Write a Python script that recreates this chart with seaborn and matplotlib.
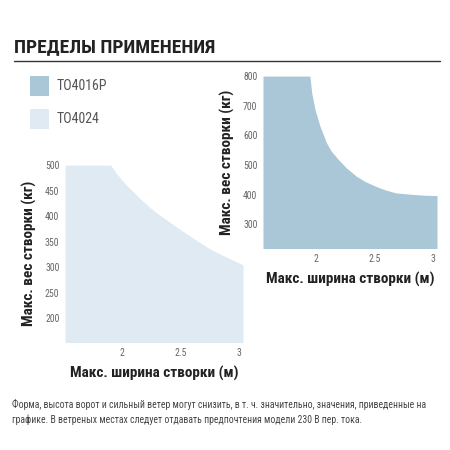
import matplotlib
matplotlib.use("Agg")
import matplotlib.pyplot as plt
import seaborn as sns
import pandas as pd

# data
width_p = [1.55, 1.949, 1.964, 1.992, 2.034, 2.09, 2.13, 2.19, 2.26, 2.345, 2.42,
           2.51, 2.59, 2.68, 2.76, 2.85, 2.93, 3.03]
weight_p = [800, 800, 745, 688, 632, 575, 547, 519, 490, 462, 444,
            428, 416, 406, 403, 400, 398, 397]

width_l = [1.52, 1.907, 1.96, 2.02, 2.09, 2.16, 2.24, 2.33, 2.43, 2.53, 2.64, 2.75, 2.89, 3.03]
weight_l = [500, 500, 483, 466, 450, 434, 417, 401, 385, 369, 352, 336, 320, 305]

ticks_l = [200, 250, 300, 350, 400, 450, 500]
ticks_p = [300, 400, 500, 600, 700, 800]
xticks = [2, 2.5, 3]
xtick_labels = ["2", "2.5", "3"]

names = ["TO4016P", "TO4024"]
dark = "#a9c7d6"
light = "#dfeaf2"

sns.set_theme(style="white")
plt.rcParams["font.family"] = ["Roboto Condensed", "Fira Sans Condensed", "Oswald",
                               "PT Sans Narrow", "Sofia Sans Condensed", "DejaVu Sans"]

fig = plt.figure(figsize=(4.5, 4.5), dpi=100)

df_l = pd.DataFrame({"w": width_l, "kg": weight_l})
df_p = pd.DataFrame({"w": width_p, "kg": weight_p})

ax1 = fig.add_axes([0.1444, 0.24, 0.3956, 0.393])
sns.lineplot(data=df_l, x="w", y="kg", ax=ax1, color=light, lw=0)
ax1.fill_between(df_l["w"], 0, df_l["kg"], color=light, lw=0)
ax1.set_xlim(1.52, 3.03)
ax1.set_ylim(154, 500)
ax1.set_yticks(ticks_l)

ax2 = fig.add_axes([0.5844, 0.4489, 0.3867, 0.382])
sns.lineplot(data=df_p, x="w", y="kg", ax=ax2, color=dark, lw=0)
ax2.fill_between(df_p["w"], 0, df_p["kg"], color=dark, lw=0)
ax2.set_xlim(1.55, 3.03)
ax2.set_ylim(220, 800)
ax2.set_yticks(ticks_p)

for ax in (ax1, ax2):
    ax.set_facecolor("none")
    ax.set_xticks(xticks)
    ax.set_xticklabels(xtick_labels)
    ax.tick_params(axis="both", length=0, labelsize=7, labelcolor="#666666", pad=4)
    sns.despine(ax=ax, left=True, bottom=True)
    ax.set_xlabel("Макс. ширина створки (м)", fontsize=11, fontweight="bold",
                  color="#222222", labelpad=6)
    ax.set_ylabel("Макс. вес створки (кг)", fontsize=11, fontweight="bold",
                  color="#222222", labelpad=6)

fig.text(14 / 450, 1 - 47 / 450, "ПРЕДЕЛЫ ПРИМЕНЕНИЯ", fontsize=14,
         fontweight="bold", color="#222222", va="center", ha="left")
fig.add_artist(plt.Line2D([14 / 450, 440 / 450], [1 - 61 / 450, 1 - 61 / 450],
                          color="#333333", lw=1))

# legend
for i, (nm, col) in enumerate(zip(names, [dark, light])):
    y0 = 1 - (96 + i * 33) / 450
    fig.add_artist(plt.Rectangle((30 / 450, y0), 19 / 450, 20 / 450,
                                 color=col, lw=0, transform=fig.transFigure))
    fig.text(57 / 450, y0 + 10 / 450, nm, fontsize=10, color="#555555",
             va="center", ha="left")

note = ("Форма, высота ворот и сильный ветер могут снизить, в т. ч. значительно, значения, приведенные на\n"
        "графике. В ветреных местах следует отдавать предпочтения модели 230 В пер. тока.")
fig.text(12 / 450, 1 - 412 / 450, note, fontsize=7, color="#444444",
         va="center", ha="left", linespacing=1.6)

fig.savefig("out.png", dpi=100)
